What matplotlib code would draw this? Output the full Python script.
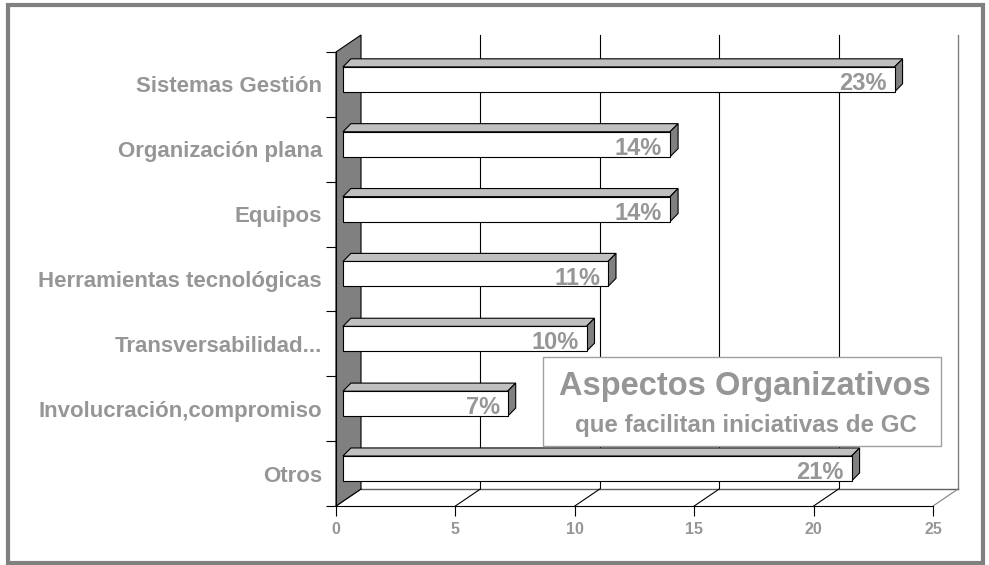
import matplotlib.pyplot as plt
from matplotlib.patches import Polygon, Rectangle

categories = ['Sistemas Gestión', 'Organización plana', 'Equipos',
              'Herramientas tecnológicas', 'Transversabilidad...',
              'Involucración,compromiso', 'Otros']
values = [23.1, 13.7, 13.7, 11.1, 10.2, 6.9, 21.3]
x_ticks = [0, 5, 10, 15, 20, 25]
title_1 = 'Aspectos Organizativos'
title_2 = 'que facilitan iniciativas de GC'

GRAY_TEXT = '#969696'
DARK = '#808080'
LIGHT = '#c0c0c0'

plt.rcParams['font.family'] = ['Liberation Sans', 'DejaVu Sans']
plt.rcParams['font.weight'] = 'bold'

W, H = 989, 565
fig = plt.figure(figsize=(W / 100, H / 100), dpi=100)
# front plane of the 3d box
ax = fig.add_axes([336 / W, 1 - 506 / H, 597 / W, 454 / H])
n = len(categories)
xmax = x_ticks[-1]
ax.set_xlim(0, xmax)
ax.set_ylim(n, 0)
ax.patch.set_visible(False)

# depth of the box (data units)
DX, DY = 1.047, 0.262
# bar geometry
BAR_X0, BAR_TOP, BAR_H = 0.29, 0.23, 0.385
BAR_DX, BAR_DY = 0.335, 0.125

# back wall
ax.add_patch(Rectangle((DX, -DY), xmax, n, facecolor='white', edgecolor='none',
                       zorder=0, clip_on=False))
for t in x_ticks[1:-1]:
    ax.plot([t + DX, t + DX], [-DY, n - DY], color='black', lw=0.8, zorder=1, clip_on=False)
ax.plot([xmax + DX, xmax + DX], [-DY, n - DY], color=DARK, lw=1, zorder=1, clip_on=False)
ax.plot([DX, xmax + DX], [n - DY, n - DY], color='#606060', lw=1, zorder=1, clip_on=False)

# floor
for t in x_ticks:
    c = 'black' if t < xmax else DARK
    ax.plot([t, t + DX], [n, n - DY], color=c, lw=0.8, zorder=1, clip_on=False)

# left wall
ax.add_patch(Polygon([(0, 0), (DX, -DY), (DX, n - DY), (0, n)], closed=True,
                     facecolor=DARK, edgecolor='black', lw=0.8, zorder=2, clip_on=False))

# bars
for i, v in enumerate(values):
    y0 = i + BAR_TOP
    y1 = y0 + BAR_H
    x0 = BAR_X0
    x1 = BAR_X0 + v
    top = [(x0, y0), (x0 + BAR_DX, y0 - BAR_DY), (x1 + BAR_DX, y0 - BAR_DY), (x1, y0)]
    side = [(x1, y0), (x1 + BAR_DX, y0 - BAR_DY), (x1 + BAR_DX, y1 - BAR_DY), (x1, y1)]
    ax.add_patch(Polygon(top, closed=True, facecolor=LIGHT, edgecolor='black', lw=0.8,
                         zorder=3, clip_on=False))
    ax.add_patch(Polygon(side, closed=True, facecolor=DARK, edgecolor='black', lw=0.8,
                         zorder=3, clip_on=False))
    ax.add_patch(Rectangle((x0, y0), v, BAR_H, facecolor='white', edgecolor='black',
                           lw=0.8, zorder=4, clip_on=False))
    ax.text(x1 - 0.33, y1 - 0.03, f'{round(v)}%', ha='right', va='baseline',
            fontsize=17, color=GRAY_TEXT, fontweight='bold', zorder=5)

# axes, ticks
for s in ['top', 'right']:
    ax.spines[s].set_visible(False)
for s in ['left', 'bottom']:
    ax.spines[s].set_color('black')
    ax.spines[s].set_linewidth(0.8)
    ax.spines[s].set_zorder(6)

ax.set_yticks(range(n + 1))
ax.set_yticklabels([])
ax.set_yticks([i + 0.5 for i in range(n)], categories, minor=True)
ax.tick_params(axis='y', which='major', length=7.2, width=0.8, direction='out')
ax.tick_params(axis='y', which='minor', length=0, pad=10, labelsize=16, labelcolor=GRAY_TEXT)
ax.set_xticks(x_ticks)
ax.tick_params(axis='x', length=7.2, width=0.8, direction='out', pad=4,
               labelsize=11.5, labelcolor=GRAY_TEXT)

# title box
fig.add_artist(Rectangle((543 / W, 1 - 446 / H), 398 / W, 89 / H, transform=fig.transFigure,
                         facecolor='white', edgecolor='#a0a0a0', lw=1, zorder=10))
fig.text(745 / W, 1 - 395 / H, title_1, ha='center', va='baseline', fontsize=23.5,
         color=GRAY_TEXT, fontweight='bold', zorder=11)
fig.text(746 / W, 1 - 432 / H, title_2, ha='center', va='baseline', fontsize=17.4,
         color=GRAY_TEXT, fontweight='bold', zorder=11)

# outer frame
fig.add_artist(Rectangle((7.5 / W, 1 - 563 / H), 975.5 / W, 558.5 / H, transform=fig.transFigure,
                         fill=False, edgecolor=DARK, lw=3))

fig.savefig('out.png', dpi=100)
